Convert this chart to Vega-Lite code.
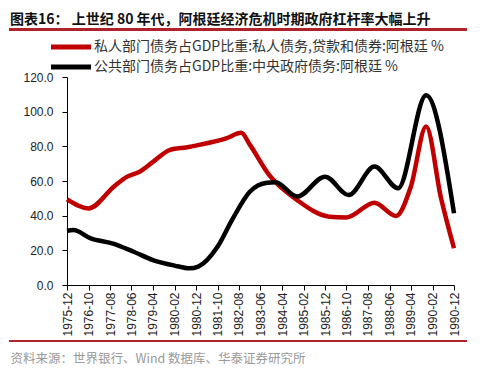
{
  "$schema": "https://vega.github.io/schema/vega-lite/v6.json",
  "autosize": {"type": "none"},
  "width": 387,
  "height": 208,
  "padding": {"left": 67, "top": 77, "right": 30, "bottom": 85},
  "background": "white",
  "title": {
    "text": "图表16：  上世纪 80 年代，阿根廷经济危机时期政府杠杆率大幅上升",
    "anchor": "start",
    "frame": "group",
    "dx": -57,
    "offset": 1,
    "font": "Noto Sans CJK SC",
    "fontSize": 14,
    "fontWeight": "bold",
    "color": "#111111"
  },
  "config": {
    "view": {"stroke": null},
    "axis": {"grid": false, "labelFont": "Liberation Sans", "labelFontSize": 12, "labelColor": "#222222", "domainColor": "#000000", "tickColor": "#000000", "tickSize": 5, "labelOverlap": false}
  },
  "resolve": {"scale": {"x": "independent", "y": "independent"}, "axis": {"x": "independent", "y": "independent"}},
  "data": {
    "values": [
      {"date": "1975-12-01", "series": "私人部门债务占GDP比重:私人债务,贷款和债券:阿根廷 %", "value": 49.4},
      {"date": "1976-10-01", "series": "私人部门债务占GDP比重:私人债务,贷款和债券:阿根廷 %", "value": 44.2},
      {"date": "1977-10-01", "series": "私人部门债务占GDP比重:私人债务,贷款和债券:阿根廷 %", "value": 57},
      {"date": "1978-04-01", "series": "私人部门债务占GDP比重:私人债务,贷款和债券:阿根廷 %", "value": 62.5},
      {"date": "1978-10-01", "series": "私人部门债务占GDP比重:私人债务,贷款和债券:阿根廷 %", "value": 65.5},
      {"date": "1979-04-01", "series": "私人部门债务占GDP比重:私人债务,贷款和债券:阿根廷 %", "value": 71},
      {"date": "1979-12-01", "series": "私人部门债务占GDP比重:私人债务,贷款和债券:阿根廷 %", "value": 78},
      {"date": "1980-08-01", "series": "私人部门债务占GDP比重:私人债务,贷款和债券:阿根廷 %", "value": 79.5},
      {"date": "1981-02-01", "series": "私人部门债务占GDP比重:私人债务,贷款和债券:阿根廷 %", "value": 81},
      {"date": "1982-02-01", "series": "私人部门债务占GDP比重:私人债务,贷款和债券:阿根廷 %", "value": 84.6},
      {"date": "1982-09-01", "series": "私人部门债务占GDP比重:私人债务,贷款和债券:阿根廷 %", "value": 87.8},
      {"date": "1983-01-01", "series": "私人部门债务占GDP比重:私人债务,贷款和债券:阿根廷 %", "value": 81},
      {"date": "1983-10-01", "series": "私人部门债务占GDP比重:私人债务,贷款和债券:阿根廷 %", "value": 63.5},
      {"date": "1984-11-01", "series": "私人部门债务占GDP比重:私人债务,贷款和债券:阿根廷 %", "value": 49},
      {"date": "1986-02-01", "series": "私人部门债务占GDP比重:私人债务,贷款和债券:阿根廷 %", "value": 39.4},
      {"date": "1986-10-01", "series": "私人部门债务占GDP比重:私人债务,贷款和债券:阿根廷 %", "value": 39},
      {"date": "1987-11-01", "series": "私人部门债务占GDP比重:私人债务,贷款和债券:阿根廷 %", "value": 47.5},
      {"date": "1988-09-01", "series": "私人部门债务占GDP比重:私人债务,贷款和债券:阿根廷 %", "value": 39.8},
      {"date": "1989-04-01", "series": "私人部门债务占GDP比重:私人债务,贷款和债券:阿根廷 %", "value": 57},
      {"date": "1989-11-01", "series": "私人部门债务占GDP比重:私人债务,贷款和债券:阿根廷 %", "value": 91.5},
      {"date": "1990-06-01", "series": "私人部门债务占GDP比重:私人债务,贷款和债券:阿根廷 %", "value": 50},
      {"date": "1990-12-01", "series": "私人部门债务占GDP比重:私人债务,贷款和债券:阿根廷 %", "value": 21.2},
      {"date": "1975-12-01", "series": "公共部门债务占GDP比重:中央政府债务:阿根廷 %", "value": 31.3},
      {"date": "1976-03-01", "series": "公共部门债务占GDP比重:中央政府债务:阿根廷 %", "value": 31.7},
      {"date": "1976-11-01", "series": "公共部门债务占GDP比重:中央政府债务:阿根廷 %", "value": 26.9},
      {"date": "1977-09-01", "series": "公共部门债务占GDP比重:中央政府债务:阿根廷 %", "value": 24},
      {"date": "1978-07-01", "series": "公共部门债务占GDP比重:中央政府债务:阿根廷 %", "value": 19.2},
      {"date": "1979-04-01", "series": "公共部门债务占GDP比重:中央政府债务:阿根廷 %", "value": 14.4},
      {"date": "1980-02-01", "series": "公共部门债务占GDP比重:中央政府债务:阿根廷 %", "value": 11.2},
      {"date": "1980-09-01", "series": "公共部门债务占GDP比重:中央政府债务:阿根廷 %", "value": 9.6},
      {"date": "1981-01-01", "series": "公共部门债务占GDP比重:中央政府债务:阿根廷 %", "value": 10.6},
      {"date": "1981-10-01", "series": "公共部门债务占GDP比重:中央政府债务:阿根廷 %", "value": 22},
      {"date": "1982-05-01", "series": "公共部门债务占GDP比重:中央政府债务:阿根廷 %", "value": 38},
      {"date": "1983-01-01", "series": "公共部门债务占GDP比重:中央政府债务:阿根廷 %", "value": 53.8},
      {"date": "1983-09-01", "series": "公共部门债务占GDP比重:中央政府债务:阿根廷 %", "value": 59},
      {"date": "1984-01-01", "series": "公共部门债务占GDP比重:中央政府债务:阿根廷 %", "value": 59.3},
      {"date": "1984-11-01", "series": "公共部门债务占GDP比重:中央政府债务:阿根廷 %", "value": 51},
      {"date": "1985-12-01", "series": "公共部门债务占GDP比重:中央政府债务:阿根廷 %", "value": 62.5},
      {"date": "1986-11-01", "series": "公共部门债务占GDP比重:中央政府债务:阿根廷 %", "value": 51.9},
      {"date": "1987-11-01", "series": "公共部门债务占GDP比重:中央政府债务:阿根廷 %", "value": 68.3},
      {"date": "1988-10-01", "series": "公共部门债务占GDP比重:中央政府债务:阿根廷 %", "value": 55.8},
      {"date": "1989-11-01", "series": "公共部门债务占GDP比重:中央政府债务:阿根廷 %", "value": 109.5},
      {"date": "1990-12-01", "series": "公共部门债务占GDP比重:中央政府债务:阿根廷 %", "value": 41.4}
    ],
    "format": {"parse": {"date": "utc:'%Y-%m-%d'"}}
  },
  "layer": [
    {
      "mark": {"type": "line", "interpolate": "monotone", "strokeWidth": 4.5},
      "encoding": {
        "x": {
          "field": "date",
          "type": "temporal",
          "scale": {"type": "utc", "domain": [{"year": 1975, "month": 12, "date": 1, "utc": true}, {"year": 1990, "month": 12, "date": 1, "utc": true}]},
          "axis": {
            "values": [
              {"year": 1975, "month": 12, "date": 1, "utc": true},
              {"year": 1976, "month": 10, "date": 1, "utc": true},
              {"year": 1977, "month": 8, "date": 1, "utc": true},
              {"year": 1978, "month": 6, "date": 1, "utc": true},
              {"year": 1979, "month": 4, "date": 1, "utc": true},
              {"year": 1980, "month": 2, "date": 1, "utc": true},
              {"year": 1980, "month": 12, "date": 1, "utc": true},
              {"year": 1981, "month": 10, "date": 1, "utc": true},
              {"year": 1982, "month": 8, "date": 1, "utc": true},
              {"year": 1983, "month": 6, "date": 1, "utc": true},
              {"year": 1984, "month": 4, "date": 1, "utc": true},
              {"year": 1985, "month": 2, "date": 1, "utc": true},
              {"year": 1985, "month": 12, "date": 1, "utc": true},
              {"year": 1986, "month": 10, "date": 1, "utc": true},
              {"year": 1987, "month": 8, "date": 1, "utc": true},
              {"year": 1988, "month": 6, "date": 1, "utc": true},
              {"year": 1989, "month": 4, "date": 1, "utc": true},
              {"year": 1990, "month": 2, "date": 1, "utc": true},
              {"year": 1990, "month": 12, "date": 1, "utc": true}
            ],
            "labelExpr": "utcFormat(datum.value, '%Y-%m')",
            "labelAngle": 270,
            "labelAlign": "right",
            "labelBaseline": "middle",
            "labelPadding": 2,
            "labelFlush": false,
            "labelOverlap": false,
            "title": "资料来源：世界银行、Wind 数据库、华泰证券研究所",
            "titleX": -57,
            "titleY": 73,
            "titleAlign": "left",
            "titleAngle": 0,
            "titleBaseline": "middle",
            "titleFont": "Noto Sans CJK SC",
            "titleFontSize": 12.5,
            "titleFontWeight": "normal",
            "titleColor": "#999999"
          }
        },
        "y": {
          "field": "value",
          "type": "quantitative",
          "scale": {"domain": [0, 120]},
          "axis": {"values": [0, 20, 40, 60, 80, 100, 120], "labelExpr": "format(datum.value, '.1f')", "title": null, "labelPadding": 9, "labelOverlap": false}
        },
        "color": {
          "field": "series",
          "type": "nominal",
          "scale": {
            "domain": ["私人部门债务占GDP比重:私人债务,贷款和债券:阿根廷 %", "公共部门债务占GDP比重:中央政府债务:阿根廷 %"],
            "range": ["#c00000", "#000000"]
          },
          "legend": {
            "title": null,
            "orient": "none",
            "legendX": -3,
            "legendY": -37,
            "padding": 0,
            "symbolType": "M-5,0H5",
            "symbolSize": 64,
            "symbolStrokeWidth": 5,
            "labelOffset": 16,
            "rowPadding": 0,
            "labelFont": "Noto Sans CJK SC",
            "labelFontSize": 14,
            "labelColor": "#333333",
            "labelLimit": 500
          }
        }
      }
    },
    {
      "mark": {"type": "rule", "color": "#b0232a", "strokeWidth": 2},
      "encoding": {
        "x": {"datum": {"year": 1973, "month": 9, "date": 1, "utc": true}, "type": "temporal", "axis": null,
              "scale": {"type": "utc", "domain": [{"year": 1975, "month": 12, "date": 1, "utc": true}, {"year": 1990, "month": 12, "date": 1, "utc": true}]}},
        "x2": {"datum": {"year": 1991, "month": 6, "date": 1, "utc": true}},
        "y": {"datum": 147.5, "type": "quantitative", "axis": null, "scale": {"domain": [0, 120]}}
      }
    },
    {
      "mark": {"type": "rule", "color": "#b0232a", "strokeWidth": 2},
      "encoding": {
        "x": {"datum": {"year": 1973, "month": 9, "date": 1, "utc": true}, "type": "temporal", "axis": null,
              "scale": {"type": "utc", "domain": [{"year": 1975, "month": 12, "date": 1, "utc": true}, {"year": 1990, "month": 12, "date": 1, "utc": true}]}},
        "x2": {"datum": {"year": 1991, "month": 6, "date": 1, "utc": true}},
        "y": {"datum": -32.3, "type": "quantitative", "axis": null, "scale": {"domain": [0, 120]}}
      }
    }
  ]
}
